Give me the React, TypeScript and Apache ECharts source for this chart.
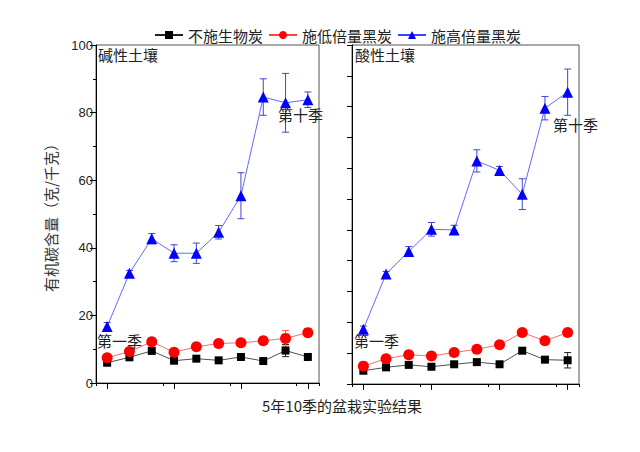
import React, { useEffect, useRef } from "react";
import * as echarts from "echarts";

const categories = ["第1季", "第2季", "第3季", "第4季", "第5季", "第6季", "第7季", "第8季", "第9季", "第10季"];
const seriesNames = ["不施生物炭", "施低倍量黑炭", "施高倍量黑炭"];
const leftTicks = [0, 20, 40, 60, 80, 100];

// 碱性土壤 (alkaline soil)
const alkNone = [6.0, 7.6, 9.5, 6.6, 7.2, 6.7, 7.7, 6.5, 9.6, 7.7];
const alkNoneErr = [0.4, 0.4, 0.4, 0.4, 0.4, 0.4, 0.4, 0.4, 1.8, 0.4];
const alkLow = [7.5, 9.3, 12.2, 9.1, 10.7, 11.7, 11.9, 12.5, 13.2, 14.9];
const alkLowErr = [0.4, 0.5, 0.5, 0.5, 0.4, 0.4, 0.4, 0.5, 2.3, 0.5];
const alkHigh = [16.7, 32.5, 42.7, 38.4, 38.4, 44.6, 55.4, 84.6, 82.9, 83.8];
const alkHighErr = [1.2, 0.8, 1.5, 2.5, 3.0, 2.0, 6.8, 5.4, 8.7, 2.3];

// 酸性土壤 (acid soil)
const acidNone = [4.3, 5.4, 6.2, 5.6, 6.4, 7.1, 6.4, 10.8, 7.9, 7.7];
const acidNoneErr = [0.3, 0.3, 0.3, 0.3, 0.3, 0.3, 0.3, 0.5, 0.4, 2.5];
const acidLow = [5.8, 8.2, 9.5, 9.1, 10.2, 11.3, 12.7, 16.7, 14.0, 16.7];
const acidLowErr = [0.4, 0.4, 0.4, 0.4, 0.4, 0.4, 0.4, 0.5, 0.5, 0.5];
const acidHigh = [17.8, 35.7, 43.0, 50.2, 50.0, 72.4, 69.3, 61.6, 89.5, 94.7];
const acidHighErr = [1.0, 0.8, 1.6, 2.2, 1.5, 3.6, 1.3, 5.0, 3.8, 7.5];

const CJK = '"Noto Sans CJK SC", "Noto Sans", sans-serif';
const NUM = '"Liberation Sans", Arial, sans-serif';

const colors = ["#000000", "#ff0000", "#0000ff"];
const lineColors = ["#222222", "#ff4444", "#4040ff"];
const errColors = ["#222222", "#ff5555", "#4444cc"];
const symbols = ["rect", "circle", "triangle"];
const symbolSizes = [8, 11, 11];

function errData(vals: number[], errs: number[]) {
  return vals.map((v, i) => [i, v - errs[i], v + errs[i]]);
}

function errSeries(name: string, vals: number[], errs: number[], color: string, axisIdx: number, yIdx: number) {
  return {
    type: "custom",
    name,
    xAxisIndex: axisIdx,
    yAxisIndex: yIdx,
    z: 1,
    silent: true,
    encode: { x: 0, y: [1, 2] },
    data: errData(vals, errs),
    renderItem: (params: any, api: any) => {
      const x = api.value(0);
      const lo = api.coord([x, api.value(1)]);
      const hi = api.coord([x, api.value(2)]);
      const hw = 3.5;
      const style = { stroke: color, lineWidth: 1 };
      return {
        type: "group",
        children: [
          { type: "line", shape: { x1: hi[0], y1: hi[1], x2: lo[0], y2: lo[1] }, style },
          { type: "line", shape: { x1: hi[0] - hw, y1: hi[1], x2: hi[0] + hw, y2: hi[1] }, style },
          { type: "line", shape: { x1: lo[0] - hw, y1: lo[1], x2: lo[0] + hw, y2: lo[1] }, style },
        ],
      };
    },
  };
}

function lineSeries(k: number, vals: number[], axisIdx: number, yIdx: number) {
  return {
    type: "line",
    name: seriesNames[k],
    xAxisIndex: axisIdx,
    yAxisIndex: yIdx,
    data: vals,
    symbol: symbols[k],
    symbolSize: symbolSizes[k],
    z: 3 + k,
    itemStyle: { color: colors[k] },
    lineStyle: { color: lineColors[k], width: 0.8 },
  };
}

function catAxis(gridIndex: number, major: boolean) {
  return {
    type: "category",
    gridIndex,
    data: categories,
    boundaryGap: true,
    position: "bottom",
    axisLine: { show: major, onZero: false, lineStyle: { color: "#000", width: 1 } },
    axisTick: {
      show: true,
      alignWithLabel: major,
      length: major ? 6 : 3,
      lineStyle: { color: "#000", width: 1 },
    },
    axisLabel: { show: false },
    splitLine: { show: false },
  };
}

export default function App() {
  const ref = useRef<HTMLDivElement>(null);
  useEffect(() => {
    document.body.style.margin = "0";
    if (!ref.current) return;
    const chart = echarts.init(ref.current, undefined, { renderer: "svg" });
    const option: any = {
      animation: false,
      backgroundColor: "#ffffff",
      legend: {
        data: seriesNames,
        left: 149,
        top: 21,
        itemWidth: 28,
        itemHeight: 10,
        itemGap: 5,
        textStyle: { fontFamily: CJK, fontSize: 15, color: "#222", lineHeight: 18 },
      },
      grid: [
        { left: 96, top: 45, width: 223, height: 338, show: true, borderColor: "#555", borderWidth: 1, backgroundColor: "transparent" },
        { left: 352, top: 45, width: 227, height: 339, show: true, borderColor: "#555", borderWidth: 1, backgroundColor: "transparent" },
      ],
      xAxis: [catAxis(0, true), catAxis(0, false), catAxis(1, true), catAxis(1, false)],
      yAxis: [
        {
          type: "value",
          gridIndex: 0,
          min: leftTicks[0],
          max: leftTicks[leftTicks.length - 1],
          interval: 20,
          name: "有机碳含量（克/千克）",
          nameLocation: "middle",
          nameGap: 38,
          nameTextStyle: { fontFamily: CJK, fontSize: 15, color: "#333" },
          axisLine: { show: true, lineStyle: { color: "#000" } },
          axisTick: { show: true, length: 6, lineStyle: { color: "#000" } },
          minorTick: { show: true, splitNumber: 2, length: 3, lineStyle: { color: "#000" } },
          axisLabel: { fontFamily: NUM, fontSize: 13, color: "#222", margin: 3 },
          splitLine: { show: false },
          minorSplitLine: { show: false },
        },
        {
          type: "value",
          gridIndex: 1,
          min: 0,
          max: 110,
          interval: 10,
          axisLine: { show: true, lineStyle: { color: "#000" } },
          axisTick: { show: true, length: 5, lineStyle: { color: "#000" } },
          axisLabel: { show: false },
          splitLine: { show: false },
        },
      ],
      series: [
        errSeries("e0", alkNone, alkNoneErr, errColors[0], 0, 0),
        errSeries("e1", alkLow, alkLowErr, errColors[1], 0, 0),
        errSeries("e2", alkHigh, alkHighErr, errColors[2], 0, 0),
        lineSeries(0, alkNone, 0, 0),
        lineSeries(1, alkLow, 0, 0),
        lineSeries(2, alkHigh, 0, 0),
        errSeries("e3", acidNone, acidNoneErr, errColors[0], 2, 1),
        errSeries("e4", acidLow, acidLowErr, errColors[1], 2, 1),
        errSeries("e5", acidHigh, acidHighErr, errColors[2], 2, 1),
        lineSeries(0, acidNone, 2, 1),
        lineSeries(1, acidLow, 2, 1),
        lineSeries(2, acidHigh, 2, 1),
      ],
      graphic: [
        { type: "text", left: 98, top: 47, z: 10, style: { text: "碱性土壤", fontFamily: CJK, fontSize: 15, fill: "#222" } },
        { type: "text", left: 355, top: 47, z: 10, style: { text: "酸性土壤", fontFamily: CJK, fontSize: 15, fill: "#222" } },
        { type: "text", left: 97, top: 333, z: 10, style: { text: "第一季", fontFamily: CJK, fontSize: 15, fill: "#222" } },
        { type: "text", left: 354, top: 333, z: 10, style: { text: "第一季", fontFamily: CJK, fontSize: 15, fill: "#222" } },
        { type: "text", left: 278, top: 107, z: 10, style: { text: "第十季", fontFamily: CJK, fontSize: 15, fill: "#222" } },
        { type: "text", left: 553, top: 117, z: 10, style: { text: "第十季", fontFamily: CJK, fontSize: 15, fill: "#222" } },
        { type: "text", left: 262, top: 398, z: 10, style: { text: "5年10季的盆栽实验结果", fontFamily: CJK, fontSize: 15, fill: "#222" } },
      ],
    };
    chart.setOption(option);
    return () => chart.dispose();
  }, []);
  return <div ref={ref} style={{ width: 640, height: 452 }} />;
}
